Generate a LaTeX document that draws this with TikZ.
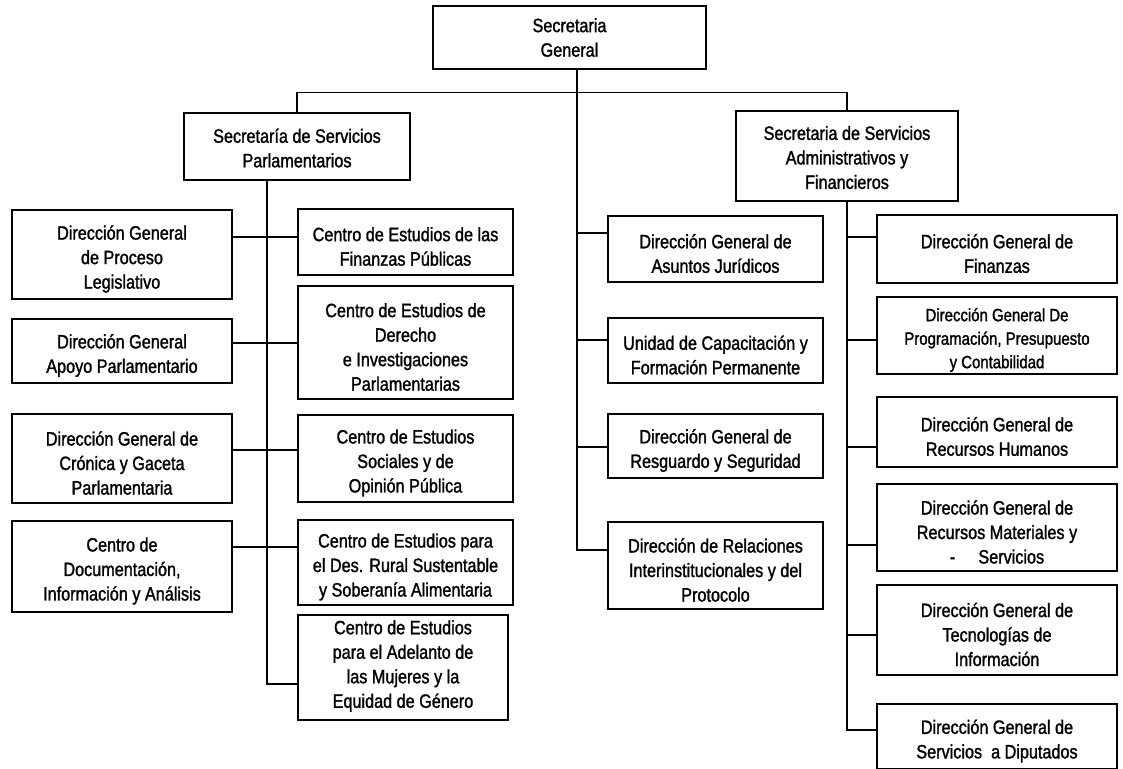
\documentclass[tikz,border=0pt]{standalone}
\usepackage{fontspec}
\setmainfont{Liberation Sans}[FakeStretch=0.84,FakeBold=1.4]
\begin{document}
\begin{tikzpicture}[x=1pt,y=-1pt,
  box/.style={draw, line width=1.2pt, inner sep=0pt},
  txt/.style={align=center, inner sep=0pt, yshift=-4.5pt,
    font=\fontsize{19.3}{24.5}\selectfont},
  smalltxt/.style={txt, font=\fontsize{17.8}{23.5}\selectfont},
  link/.style={line width=1.2pt}]
\useasboundingbox (0,0) rectangle (1123,768);
\fill[white] (0,0) rectangle (1123,768);

% top level
\node[box, minimum width=273pt, minimum height=63pt,
  label={[txt, yshift=4.5pt]center:{Secretaria\\General}}] (SG) at (569.5,37.5) {};
\node[box, minimum width=226pt, minimum height=67pt,
  label={[txt, yshift=3pt]center:{Secretaría de Servicios\\Parlamentarios}}] (SSP) at (297,146.5) {};
\node[box, minimum width=222pt, minimum height=90pt,
  label={[txt, yshift=3pt]center:{Secretaria de Servicios\\Administrativos y\\Financieros}}] (SSAF) at (847,156) {};

% left column
\node[box, minimum width=220pt, minimum height=89pt,
  label={[txt]center:{Dirección General\\de Proceso\\Legislativo}}] (LP) at (122,254.5) {};
\node[box, minimum width=220pt, minimum height=64pt,
  label={[txt]center:{Dirección General\\Apoyo Parlamentario}}] (AP) at (122,351) {};
\node[box, minimum width=220pt, minimum height=89pt,
  label={[txt]center:{Dirección General de\\Crónica y Gaceta\\Parlamentaria}}] (CG) at (122,458.5) {};
\node[box, minimum width=220pt, minimum height=91pt,
  label={[txt]center:{Centro de\\Documentación,\\Información y Análisis}}] (CD) at (122,566.5) {};

% centre column
\node[box, minimum width=215pt, minimum height=66pt,
  label={[txt]center:{Centro de Estudios de las\\Finanzas Públicas}}] (FP) at (405.5,242) {};
\node[box, minimum width=215pt, minimum height=113pt,
  label={[txt]center:{Centro de Estudios de\\Derecho\\e Investigaciones\\Parlamentarias}}] (DE) at (405.5,342.5) {};
\node[box, minimum width=215pt, minimum height=87pt,
  label={[txt]center:{Centro de Estudios\\Sociales y de\\Opinión Pública}}] (SO) at (405.5,458.5) {};
\node[box, minimum width=215pt, minimum height=85pt,
  label={[txt]center:{Centro de Estudios para\\el Des. Rural Sustentable\\y Soberanía Alimentaria}}] (RU) at (405.5,562.5) {};
\node[box, minimum width=210pt, minimum height=105pt,
  label={[txt, yshift=6pt]center:{Centro de Estudios\\para el Adelanto de\\las Mujeres y la\\Equidad de Género}}] (MU) at (403,667.5) {};

% middle column
\node[box, minimum width=215pt, minimum height=66pt,
  label={[txt]center:{Dirección General de\\Asuntos Jurídicos}}] (AJ) at (715.5,249) {};
\node[box, minimum width=215pt, minimum height=65pt,
  label={[txt]center:{Unidad de Capacitación y\\Formación Permanente}}] (UC) at (715.5,350.5) {};
\node[box, minimum width=215pt, minimum height=64pt,
  label={[txt]center:{Dirección General de\\Resguardo y Seguridad}}] (RS) at (715.5,446) {};
\node[box, minimum width=215pt, minimum height=87pt,
  label={[txt]center:{Dirección de Relaciones\\Interinstitucionales y del\\Protocolo}}] (RI) at (715.5,565.5) {};

% right column
\node[box, minimum width=240pt, minimum height=68pt,
  label={[txt]center:{Dirección General de\\Finanzas}}] (FI) at (997,249) {};
\node[box, minimum width=240pt, minimum height=77pt,
  label={[smalltxt]center:{Dirección General De\\Programación, Presupuesto\\y Contabilidad}}] (PR) at (997,335.5) {};
\node[box, minimum width=240pt, minimum height=70pt,
  label={[txt]center:{Dirección General de\\Recursos Humanos}}] (RH) at (997,432) {};
\node[box, minimum width=240pt, minimum height=87pt,
  label={[txt]center:{Dirección General de\\Recursos Materiales y\\-\hspace{1.2em}Servicios}}] (RM) at (997,527.5) {};
\node[box, minimum width=240pt, minimum height=90pt,
  label={[txt]center:{Dirección General de\\Tecnologías de\\Información}}] (TI) at (997,630) {};
\node[box, minimum width=240pt, minimum height=65pt,
  label={[txt]center:{Dirección General de\\Servicios\ \ a Diputados}}] (SD) at (997,736.5) {};

% spine coordinates
\coordinate (sgb) at ([xshift=7.5pt]SG.south);
\coordinate (sspb) at ([xshift=-30pt]SSP.south);
\coordinate (m1) at (577,233);
\coordinate (m2) at (577,340);
\coordinate (m3) at (577,447);
\coordinate (m4) at (577,550);
\coordinate (l1) at (267,237);
\coordinate (l2) at (267,343);
\coordinate (l3) at (267,450);
\coordinate (l4) at (267,547);
\coordinate (l5) at (267,684);
\coordinate (r1) at (847,237);
\coordinate (r2) at (847,340);
\coordinate (r3) at (847,447);
\coordinate (r4) at (847,545);
\coordinate (r5) at (847,635);
\coordinate (r6) at (847,730);

% bus
\draw[link] (SSP.north) -- ++(0,-20) -| (SSAF.north);
% central spine
\draw[link] (sgb) -- (m4) -- (m4 -| RI.west);
\draw[link] (m1) -- (m1 -| AJ.west);
\draw[link] (m2) -- (m2 -| UC.west);
\draw[link] (m3) -- (m3 -| RS.west);
% left spine
\draw[link] (sspb) -- (l5) -- (l5 -| MU.west);
\draw[link] (l1 -| LP.east) -- (l1 -| FP.west);
\draw[link] (l2 -| AP.east) -- (l2 -| DE.west);
\draw[link] (l3 -| CG.east) -- (l3 -| SO.west);
\draw[link] (l4 -| CD.east) -- (l4 -| RU.west);
% right spine
\draw[link] (SSAF.south) -- (r6) -- (r6 -| SD.west);
\draw[link] (r1) -- (r1 -| FI.west);
\draw[link] (r2) -- (r2 -| PR.west);
\draw[link] (r3) -- (r3 -| RH.west);
\draw[link] (r4) -- (r4 -| RM.west);
\draw[link] (r5) -- (r5 -| TI.west);
\end{tikzpicture}
\end{document}
